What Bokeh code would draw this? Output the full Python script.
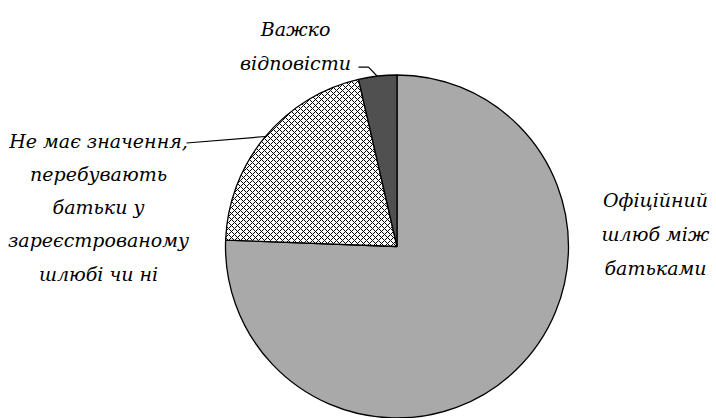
import math
from bokeh.plotting import figure
from bokeh.models import Range1d, ColumnDataSource
from bokeh.core.properties import value
from bokeh.embed import file_html
from bokeh.resources import INLINE

# Data
categories = ["Офіційний шлюб між батьками",
              "Не має значення, перебувають батьки у зареєстрованому шлюбі чи ні",
              "Важко відповісти"]
shares = [75.6, 20.8, 3.6]
colors = ["#a9a9a9", "#ffffff", "#505050"]
hatches = [" ", "diagonal_cross", " "]

label_official = ["Офіційний", "шлюб між", "батьками"]
label_nomatter = ["Не має значення,", "перебувають", "батьки у", "зареєстрованому", "шлюбі чи ні"]
label_hard = ["Важко", "відповісти"]

W, H = 716, 418
p = figure(width=W, height=H, output_backend="svg", toolbar_location=None,
           x_range=Range1d(0, W), y_range=Range1d(0, H), min_border=0)
p.axis.visible = False
p.grid.visible = False
p.outline_line_color = None
p.background_fill_color = "white"
p.border_fill_color = "white"

def wx(x):  # picture px -> data x
    return x

def wy(y):  # picture px -> data y
    return H - y

cx, cy, r = wx(396.5), wy(246), 171.5

total = sum(shares)
starts, ends = [], []
cum = 0.0
for s in shares:
    starts.append(math.pi / 2 - cum / total * 2 * math.pi)
    cum += s
    ends.append(math.pi / 2 - cum / total * 2 * math.pi)

src = ColumnDataSource(dict(start=starts, end=ends, color=colors, hatch=hatches,
                            cat=categories))
p.wedge(x=cx, y=cy, radius=r, start_angle="start", end_angle="end", direction="clock",
        source=src, fill_color="color", line_color="black", line_width=1.3,
        hatch_pattern="hatch", hatch_color="black", hatch_scale=6, hatch_weight=1)

font = value("DejaVu Serif")
fs = "19px"

def draw_label(lines, x, y0, step):
    xs = [wx(x)] * len(lines)
    ys = [wy(y0 + i * step) for i in range(len(lines))]
    p.text(x=xs, y=ys, text=lines, text_font=font, text_font_size=fs,
           text_font_style="italic", text_align="center", text_baseline="alphabetic",
           text_color="black")

draw_label(label_official, 655, 199, 34)
draw_label(label_nomatter, 98, 140, 33.3)
draw_label(label_hard, 295, 28, 34)

# leader lines
p.line(x=[wx(186), wx(265)], y=[wy(142.5), wy(136)], line_color="black", line_width=1.2)
p.line(x=[wx(358), wx(368), wx(377)], y=[wy(66.7), wy(66.7), wy(76)],
       line_color="black", line_width=1.2)

open("out.html", "w").write(file_html(p, INLINE))
